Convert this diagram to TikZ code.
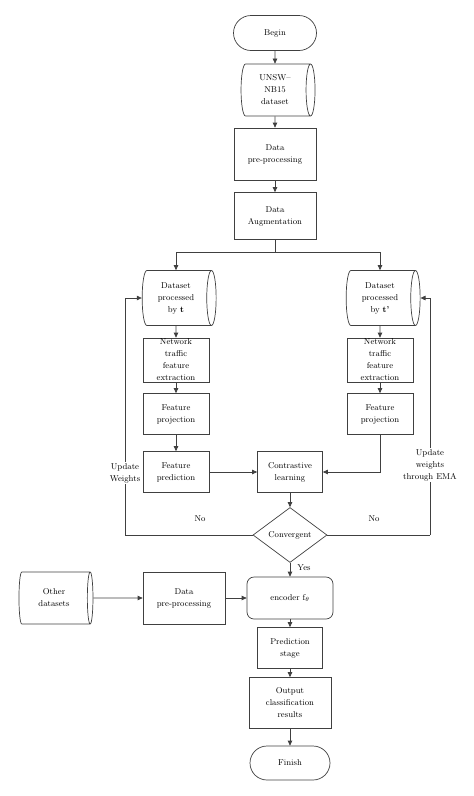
\documentclass[tikz,border=0pt]{standalone}
\usepackage{amsmath}
\usetikzlibrary{positioning,shapes.geometric,shapes.misc,arrows.meta}

\tikzset{
  base/.style={draw=black!75, line width=0.7pt, align=center, inner sep=1pt,
    font=\fontsize{8.5}{12}\selectfont},
  proc/.style={base, rectangle},
  db/.style={base, cylinder, aspect=0.28},
  term/.style={base, rounded rectangle},
  dec/.style={base, diamond, aspect=1.35, inner sep=0pt},
  enc/.style={base, rectangle, rounded corners=7pt},
  lnk/.style={draw=black!75, line width=0.7pt},
  arr/.style={lnk, -{Triangle[length=5pt,width=4.5pt]}},
  lbl/.style={align=center, inner sep=1pt, font=\fontsize{8.5}{12}\selectfont}
}

\begin{document}
\begin{tikzpicture}[x=1pt,y=-1pt]
  \useasboundingbox (0,0) rectangle (474,796);
  % Main column: input and preparation
  \node[term, minimum width=85pt, minimum height=35pt] (begin) at (275,33) {Begin};
  \node[db, minimum height=74pt, minimum width=52pt] (unsw) at (275,90) {UNSW--\\NB15\\dataset};
  \node[proc, minimum width=82pt, minimum height=52pt] (pre) at (275,154) {Data\\pre-processing};
  \node[proc, minimum width=82pt, minimum height=47pt] (aug) at (275,216) {Data\\Augmentation};
  \coordinate (split) at (275,252);
  % Left branch
  \node[db, minimum height=74pt, minimum width=55pt] (dsL) at (176,298) {Dataset\\processed\\by \textbf{t}};
  \node[proc, minimum width=66pt, minimum height=41pt] (netL) at (176,360) {Network\\traffic\\feature\\extraction};
  \node[proc, minimum width=66pt, minimum height=41pt] (projL) at (176,414) {Feature\\projection};
  \node[proc, minimum width=66pt, minimum height=41pt] (predL) at (176,472) {Feature\\prediction};
  % Right branch
  \node[db, minimum height=74pt, minimum width=55pt] (dsR) at (380,298) {Dataset\\processed\\by \textbf{t'}};
  \node[proc, minimum width=66pt, minimum height=41pt] (netR) at (380,360) {Network\\traffic\\feature\\extraction};
  \node[proc, minimum width=66pt, minimum height=41pt] (projR) at (380,414) {Feature\\projection};
  % Training loop
  \node[proc, minimum width=65pt, minimum height=41pt] (contr) at (290,472) {Contrastive\\learning};
  \node[dec, minimum width=74pt, minimum height=55pt] (conv) at (290,535) {Convergent};
  \coordinate (wl) at (125,535);
  \coordinate (wr) at (430,535);
  % Downstream stage
  \node[db, minimum height=74pt, minimum width=52pt] (other) at (54,598) {Other\\datasets};
  \node[proc, minimum width=82pt, minimum height=52pt] (pre2) at (184,598) {Data\\pre-processing};
  \node[enc, minimum width=86pt, minimum height=42pt] (encoder) at (290,598) {encoder f$_{\theta}$};
  \node[proc, minimum width=65pt, minimum height=41pt] (pred) at (290,648) {Prediction\\stage};
  \node[proc, minimum width=82pt, minimum height=51pt] (out) at (290,703) {Output\\classification\\results};
  \node[term, minimum width=82pt, minimum height=34pt] (finish) at (290,763) {Finish};

  % Connectors
  \draw[arr] (begin) -- (unsw);
  \draw[arr] (unsw) -- (pre);
  \draw[arr] (pre) -- (aug);
  \draw[lnk] (aug) -- (split);
  \draw[arr] (split) -| (dsL);
  \draw[arr] (split) -| (dsR);
  \draw[arr] (dsL) -- (netL);
  \draw[arr] (netL) -- (projL);
  \draw[arr] (projL) -- (predL);
  \draw[arr] (dsR) -- (netR);
  \draw[arr] (netR) -- (projR);
  \draw[arr] (predL) -- (contr);
  \draw[arr] (projR) |- (contr);
  \draw[arr] (contr) -- (conv);
  \draw[lnk] (conv.west) -- (wl);
  \draw[arr] (wl) |- (dsL.west);
  \draw[lnk] (conv.east) -- (wr);
  \draw[arr] (wr) |- (dsR.east);
  \draw[arr] (conv) -- (encoder);
  \draw[arr] (other) -- (pre2);
  \draw[arr] (pre2) -- (encoder);
  \draw[arr] (encoder) -- (pred);
  \draw[arr] (pred) -- (out);
  \draw[arr] (out) -- (finish);

  % Labels
  \node[lbl, fill=white] (updL) at (125,473) {Update\\Weights};
  \node[lbl, fill=white] (updR) at (430,465) {Update\\weights\\through EMA};
  \node[lbl] (noL) at (200,519) {No};
  \node[lbl] (noR) at (374,519) {No};
  \node[lbl] (yes) at (304,568) {Yes};
\end{tikzpicture}
\end{document}
